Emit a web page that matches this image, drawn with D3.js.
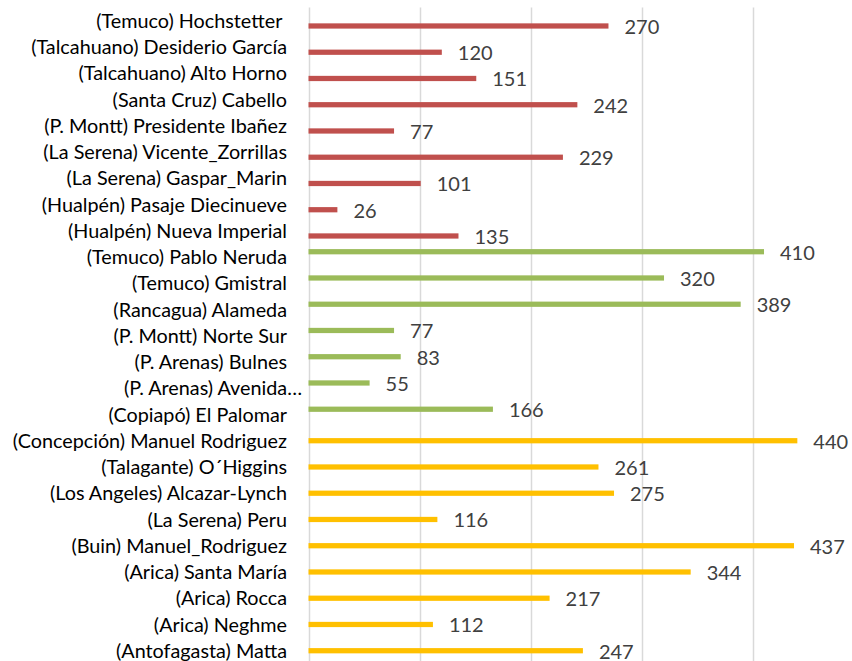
<!DOCTYPE html>
<html>
<head>
<meta charset="utf-8">
<script src="https://cdn.jsdelivr.net/npm/d3@7"></script>
<style>
  html, body { margin: 0; padding: 0; background: #fff; }
  svg { display: block; }
  .cat { font-family: Lato, "Open Sans", sans-serif; fill: #000; white-space: pre; }
  .val { font-family: Lato, "Open Sans", sans-serif; fill: #404040; }
</style>
</head>
<body>
<div id="chart"></div>
<script>
// Series 1 (red)
const redCategories = [
  "(Temuco) Hochstetter ", "(Talcahuano) Desiderio García", "(Talcahuano) Alto Horno",
  "(Santa Cruz) Cabello", "(P. Montt) Presidente Ibañez", "(La Serena) Vicente_Zorrillas",
  "(La Serena) Gaspar_Marin", "(Hualpén) Pasaje Diecinueve", "(Hualpén) Nueva Imperial"
];
const redValues = [270, 120, 151, 242, 77, 229, 101, 26, 135];

// Series 2 (green)
const greenCategories = [
  "(Temuco) Pablo Neruda", "(Temuco) Gmistral", "(Rancagua) Alameda",
  "(P. Montt) Norte Sur", "(P. Arenas) Bulnes", "(P. Arenas) Avenida…", "(Copiapó) El Palomar"
];
const greenValues = [410, 320, 389, 77, 83, 55, 166];

// Series 3 (yellow)
const yellowCategories = [
  "(Concepción) Manuel Rodriguez", "(Talagante) O´Higgins", "(Los Angeles) Alcazar-Lynch",
  "(La Serena) Peru", "(Buin) Manuel_Rodriguez", "(Arica) Santa María",
  "(Arica) Rocca", "(Arica) Neghme", "(Antofagasta) Matta"
];
const yellowValues = [440, 261, 275, 116, 437, 344, 217, 112, 247];

const xTicks = [0, 100, 200, 300, 400, 500];

const W = 852, H = 661;

const series = [
  { key: "red",    color: "#C0504D", cats: redCategories,    vals: redValues },
  { key: "green",  color: "#9BBB59", cats: greenCategories,  vals: greenValues },
  { key: "yellow", color: "#FFC000", cats: yellowCategories, vals: yellowValues }
];

const categories = series.flatMap(s => s.cats);
const rows = series.flatMap(s => s.cats.map((c, i) => ({ cat: c, value: s.vals[i], key: s.key, color: s.color })));

const svg = d3.select("#chart").append("svg").attr("width", W).attr("height", H);

const plotTop = 7.6, step = 26.25;
const x = d3.scaleLinear().domain([0, 500]).range([308.5, 864]);
const y = d3.scaleBand().domain(categories).range([plotTop, plotTop + step * categories.length]);
// cluster order within each category, top to bottom
const sub = d3.scaleBand().domain(["green", "yellow", "red"]).range([0, y.bandwidth()])
  .paddingInner(0).paddingOuter(1);

const catSize = 19.8, valSize = 20;

// vertical gridlines
svg.append("g").selectAll("line").data(xTicks).join("line")
  .attr("x1", d => Math.round(x(d)) + 0.5).attr("x2", d => Math.round(x(d)) + 0.5)
  .attr("y1", plotTop).attr("y2", H)
  .attr("stroke", "#D9D9D9").attr("stroke-width", 1.5);

// bars
svg.append("g").selectAll("rect").data(rows).join("rect")
  .attr("x", x(0))
  .attr("y", d => y(d.cat) + sub(d.key))
  .attr("width", d => x(d.value) - x(0))
  .attr("height", sub.bandwidth())
  .attr("fill", d => d.color);

// value labels, digits centred on their bar
svg.append("g").selectAll("text").data(rows).join("text")
  .attr("class", "val")
  .attr("x", d => x(d.value) + 16)
  .attr("y", d => y(d.cat) + sub(d.key) + sub.bandwidth() / 2 + 0.36 * valSize + 0.8)
  .attr("font-size", valSize)
  .text(d => d.value);

// category labels, capitals centred on the category band
svg.append("g").selectAll("text").data(categories).join("text")
  .attr("class", "cat")
  .attr("x", d => d.endsWith("…") ? 302 : 287)
  .attr("y", d => y(d) + y.bandwidth() / 2 + 0.36 * catSize)
  .attr("text-anchor", "end")
  .attr("font-size", catSize)
  .text(d => d);
</script>
</body>
</html>
